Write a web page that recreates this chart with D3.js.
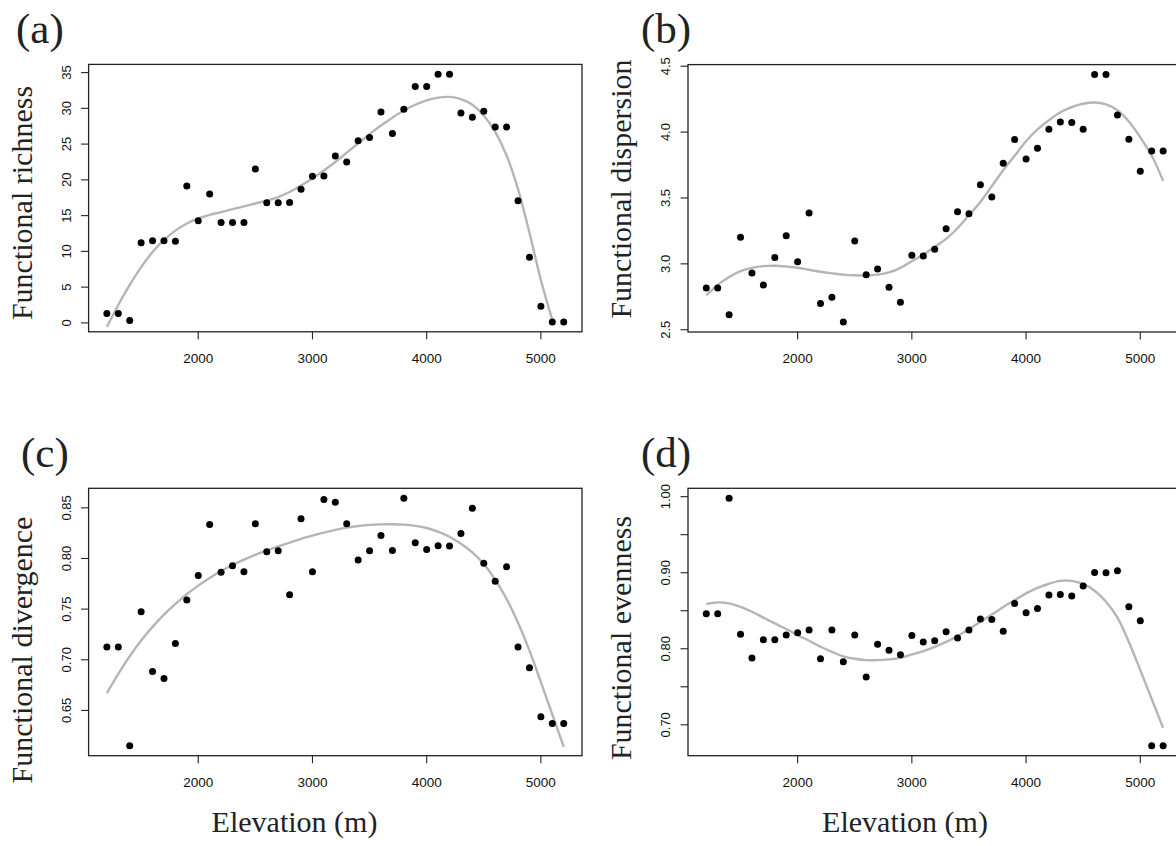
<!DOCTYPE html>
<html>
<head>
<meta charset="utf-8">
<script src="https://cdn.jsdelivr.net/npm/d3@7/dist/d3.min.js"></script>
<style>
  body { margin: 0; background: #fff; }
</style>
</head>
<body>
<div id="chart"></div>
<script>
var width = 1176, height = 846;

// elevation of each plot (m)
var elevation = [1200, 1300, 1400, 1500, 1600, 1700, 1800, 1900, 2000, 2100,
  2200, 2300, 2400, 2500, 2600, 2700, 2800, 2900, 3000, 3100,
  3200, 3300, 3400, 3500, 3600, 3700, 3800, 3900, 4000, 4100,
  4200, 4300, 4400, 4500, 4600, 4700, 4800, 4900, 5000, 5100, 5200];

var richness = [1.31, 1.31, 0.33, 11.2, 11.48, 11.48, 11.43, 19.13, 14.28, 18.01,
  14.05, 14.05, 14.05, 21.51, 16.8, 16.8, 16.85, 18.67, 20.49, 20.53,
  23.33, 22.49, 25.48, 25.94, 29.49, 26.5, 29.86, 33.04, 33.04, 34.76,
  34.76, 29.35, 28.74, 29.58, 27.39, 27.39, 17.08, 9.19, 2.33, 0.14, 0.14];

var dispersion = [2.816, 2.816, 2.614, 3.201, 2.930, 2.839, 3.049, 3.214, 3.016, 3.386,
  2.700, 2.746, 2.558, 3.173, 2.918, 2.961, 2.822, 2.708, 3.065, 3.059,
  3.110, 3.267, 3.396, 3.381, 3.601, 3.508, 3.763, 3.943, 3.796, 3.877,
  4.022, 4.077, 4.072, 4.022, 4.437, 4.437, 4.130, 3.946, 3.703, 3.857, 3.857];

var divergence = [0.7125, 0.7125, 0.6151, 0.7474, 0.6885, 0.6816, 0.7161, 0.7589, 0.7832, 0.8336,
  0.7865, 0.7928, 0.7868, 0.8342, 0.8066, 0.8076, 0.7641, 0.8391, 0.7868, 0.8582,
  0.8556, 0.8342, 0.7984, 0.8076, 0.8227, 0.8079, 0.8595, 0.8155, 0.8089, 0.8125,
  0.8122, 0.8247, 0.8497, 0.7954, 0.7776, 0.7918, 0.7125, 0.6921, 0.6438, 0.6372, 0.6372];

var evenness = [0.846, 0.846, 0.998, 0.819, 0.788, 0.812, 0.812, 0.818, 0.821, 0.8246,
  0.787, 0.8246, 0.783, 0.818, 0.763, 0.806, 0.798, 0.792, 0.8175, 0.8088,
  0.8105, 0.8224, 0.814, 0.8246, 0.839, 0.8386, 0.8232, 0.8596, 0.8474, 0.853,
  0.8706, 0.8715, 0.8693, 0.8825, 0.9004, 0.900, 0.9026, 0.8553, 0.8368, 0.6724, 0.6724];

// fitted curves at each elevation
var richnessFit = [-0.56, 2.5, 5.3, 7.8, 9.9, 11.6, 12.9, 13.9, 14.6, 15.1,
  15.5, 15.9, 16.3, 16.7, 17.1, 17.6, 18.3, 19.2, 20.2, 21.3,
  22.5, 23.8, 25.1, 26.4, 27.6, 28.7, 29.7, 30.5, 31.1, 31.5,
  31.6, 31.3, 30.5, 29.0, 26.7, 23.4, 18.7, 12.6, 6.0, 0.4, null];

var dispersionFit = [2.76, 2.84, 2.90, 2.945, 2.97, 2.983, 2.986, 2.98, 2.97, 2.955,
  2.94, 2.928, 2.918, 2.913, 2.912, 2.918, 2.935, 2.97, 3.02, 3.07,
  3.13, 3.19, 3.27, 3.37, 3.47, 3.59, 3.71, 3.82, 3.93, 4.02,
  4.09, 4.15, 4.19, 4.215, 4.225, 4.21, 4.165, 4.08, 3.96, 3.82, 3.63];

var divergenceFit = [0.6670, 0.6860, 0.7035, 0.7190, 0.7325, 0.7445, 0.7552, 0.7647, 0.7732, 0.7808,
  0.7876, 0.7936, 0.7989, 0.8036, 0.8079, 0.8119, 0.8157, 0.8193, 0.8225, 0.8255,
  0.8282, 0.8304, 0.8321, 0.8332, 0.8337, 0.8338, 0.8334, 0.8322, 0.8301, 0.8266,
  0.8214, 0.8145, 0.8060, 0.7945, 0.7790, 0.7600, 0.7365, 0.7090, 0.6780, 0.6460, 0.6140];

var evennessFit = [0.8588, 0.861, 0.8596, 0.855, 0.8487, 0.841, 0.8333, 0.826, 0.818, 0.8105,
  0.8026, 0.796, 0.790, 0.7868, 0.785, 0.785, 0.786, 0.788, 0.7925, 0.797,
  0.8026, 0.809, 0.817, 0.826, 0.8355, 0.845, 0.855, 0.864, 0.8728, 0.880,
  0.8855, 0.8893, 0.8893, 0.8852, 0.8763, 0.8618, 0.841, 0.809, 0.772, 0.734, 0.696];

// tick values
var xTicks = [2000, 3000, 4000, 5000];
var richnessTicks = [0, 5, 10, 15, 20, 25, 30, 35];
var dispersionTicks = [2.5, 3.0, 3.5, 4.0, 4.5];
var divergenceTicks = [0.65, 0.70, 0.75, 0.80, 0.85];
var evennessTicks = [0.70, 0.75, 0.80, 0.85, 0.90, 0.95, 1.00];
var evennessLabels = [0.70, 0.80, 0.90, 1.00];

var serif = '"Liberation Serif", "Times New Roman", serif';
var sans = '"Liberation Sans", Arial, sans-serif';

var plotW = 493.4, plotH = 267.4;

var panels = [
  {tag: '(a)', left: 88.6, top: 64.4, tagX: 16, tagY: 43.3, ylab: 'Functional richness', ylabY: 203,
   values: richness, fit: richnessFit, ticks: richnessTicks, labels: richnessTicks, fmt: d3.format('d')},
  {tag: '(b)', left: 688, top: 64.6, tagX: 641, tagY: 43.3, ylab: 'Functional dispersion', ylabY: 189,
   values: dispersion, fit: dispersionFit, ticks: dispersionTicks, labels: dispersionTicks, fmt: d3.format('.1f')},
  {tag: '(c)', left: 88.6, top: 488.3, tagX: 21, tagY: 467.3, ylab: 'Functional divergence', ylabY: 650,
   values: divergence, fit: divergenceFit, ticks: divergenceTicks, labels: divergenceTicks, fmt: d3.format('.2f'),
   xlab: 294.5},
  {tag: '(d)', left: 688, top: 488.3, tagX: 641, tagY: 467.3, ylab: 'Functional evenness', ylabY: 638,
   values: evenness, fit: evennessFit, ticks: evennessTicks, labels: evennessLabels, fmt: d3.format('.2f'),
   xlab: 905}
];

var svg = d3.select('#chart').append('svg')
  .attr('width', width).attr('height', height)
  .style('font-family', sans);

// R style axis limits: data range stretched by 4%
function padded(ext) {
  var r = ext[1] - ext[0];
  return [ext[0] - 0.04 * r, ext[1] + 0.04 * r];
}

var x = d3.scaleLinear().domain(padded(d3.extent(elevation))).range([0, plotW]);

panels.forEach(function(p, i) {
  var y = d3.scaleLinear().domain(padded(d3.extent(p.values))).range([plotH, 0]);
  var g = svg.append('g').attr('transform', 'translate(' + p.left + ',' + p.top + ')');

  g.append('clipPath').attr('id', 'clip' + i)
    .append('rect').attr('width', plotW).attr('height', plotH);

  var plot = g.append('g').attr('clip-path', 'url(#clip' + i + ')');

  var line = d3.line()
    .defined(function(d) { return d[1] !== null; })
    .x(function(d) { return x(d[0]); })
    .y(function(d) { return y(d[1]); })
    .curve(d3.curveCatmullRom);

  plot.append('path')
    .datum(elevation.map(function(e, j) { return [e, p.fit[j]]; }))
    .attr('d', line)
    .attr('fill', 'none')
    .attr('stroke', '#b5b5b5')
    .attr('stroke-width', 2.4);

  plot.selectAll('circle').data(p.values).enter().append('circle')
    .attr('cx', function(d, j) { return x(elevation[j]); })
    .attr('cy', function(d) { return y(d); })
    .attr('r', 3.5)
    .attr('fill', '#000');

  // box
  g.append('rect').attr('width', plotW).attr('height', plotH)
    .attr('fill', 'none').attr('stroke', '#222').attr('stroke-width', 1.3);

  // x axis
  var xa = g.append('g').attr('transform', 'translate(0,' + plotH + ')');
  xa.selectAll('line').data(xTicks).enter().append('line')
    .attr('x1', x).attr('x2', x).attr('y1', 0).attr('y2', 7.5)
    .attr('stroke', '#222').attr('stroke-width', 1.1);
  xa.selectAll('text').data(xTicks).enter().append('text')
    .attr('x', x).attr('y', 31)
    .attr('text-anchor', 'middle')
    .attr('font-size', 13.5)
    .attr('fill', '#111')
    .text(function(d) { return d; });

  // y axis
  var ya = g.append('g');
  ya.selectAll('line').data(p.ticks).enter().append('line')
    .attr('x1', -7.5).attr('x2', 0).attr('y1', y).attr('y2', y)
    .attr('stroke', '#222').attr('stroke-width', 1.1);
  ya.selectAll('text').data(p.labels).enter().append('text')
    .attr('transform', function(d) { return 'translate(-18,' + y(d) + ') rotate(-90)'; })
    .attr('text-anchor', 'middle')
    .attr('font-size', 13)
    .attr('fill', '#111')
    .text(p.fmt);

  // y label
  svg.append('text')
    .attr('transform', 'translate(' + (p.left - 57) + ',' + p.ylabY + ') rotate(-90)')
    .attr('text-anchor', 'middle')
    .attr('font-family', serif)
    .attr('font-size', 30)
    .attr('fill', '#222')
    .text(p.ylab);

  // panel tag
  svg.append('text')
    .attr('x', p.tagX).attr('y', p.tagY)
    .attr('font-family', serif)
    .attr('font-size', 43)
    .attr('fill', '#222')
    .text(p.tag);

  if (p.xlab) {
    svg.append('text')
      .attr('x', p.xlab).attr('y', 831.7)
      .attr('text-anchor', 'middle')
      .attr('font-family', serif)
      .attr('font-size', 30)
      .attr('fill', '#222')
      .text('Elevation (m)');
  }
});
</script>
</body>
</html>
